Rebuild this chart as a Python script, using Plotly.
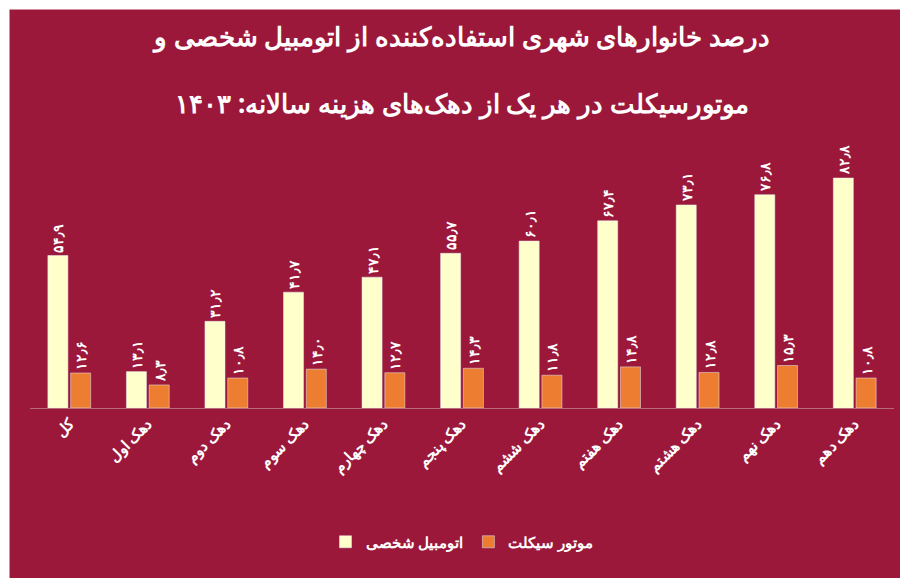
import plotly.graph_objects as go

categories = ["کل", "دهک اول", "دهک دوم", "دهک سوم", "دهک چهارم", "دهک پنجم",
              "دهک ششم", "دهک هفتم", "دهک هشتم", "دهک نهم", "دهک دهم"]
car = [54.9, 13.1, 31.2, 41.7, 47.1, 55.7, 60.1, 67.4, 73.1, 76.8, 82.8]
moto = [12.6, 8.3, 10.8, 14.0, 12.7, 14.3, 11.8, 14.8, 12.8, 15.3, 10.8]

fa_digits = str.maketrans("0123456789.", "۰۱۲۳۴۵۶۷۸۹٫")


def fa(v):
    return "<b>" + f"{v:.1f}".translate(fa_digits) + "</b>"


bg = "#9C183B"
font = "Noto Sans"
L, R, T, B = 22, 22, 150, 170

fig = go.Figure()
fig.add_bar(x=categories, y=car, name="<b>اتومبیل شخصی</b>", marker_color="#FFFFCC",
            text=[fa(v) for v in car], textposition="outside", textangle=-90,
            constraintext="none",
            textfont=dict(color="white", size=14, family=font), cliponaxis=False)
fig.add_bar(x=categories, y=moto, name="<b>موتور سیکلت</b>", marker_color="#ED7D31",
            text=[fa(v) for v in moto], textposition="outside", textangle=-90,
            constraintext="none",
            textfont=dict(color="white", size=14, family=font), cliponaxis=False)

fig.update_layout(
    width=908, height=578,
    paper_bgcolor=bg, plot_bgcolor=bg,
    font=dict(family=font, color="white"),
    title=dict(text="<b>درصد خانوارهای شهری استفاده‌کننده از اتومبیل شخصی و<br><br>موتورسیکلت در هر یک از دهک‌های هزینه سالانه: ۱۴۰۳</b>",
               x=0.5, xanchor="center", y=0.935, yanchor="top",
               font=dict(size=26, color="white", family=font)),
    barmode="group", bargap=0.42, bargroupgap=0.12,
    margin=dict(l=L, r=R, t=T, b=B),
    showlegend=True,
    legend=dict(orientation="h", x=0.5, xanchor="center", y=-0.47, yanchor="top",
                font=dict(size=15, color="white"), traceorder="normal"),
    xaxis=dict(tickangle=-45, tickfont=dict(size=15, color="white"),
               tickvals=categories, ticktext=["<b>" + c + "</b>" for c in categories],
               showline=True, linecolor="#b86a7d", ticks=""),
    yaxis=dict(range=[0, 90], visible=False, showgrid=False),
)
pw, ph = 908 - L - R, 578 - T - B
fig.update_layout(
    margin=dict(b=B + 8),
    shapes=[dict(type="rect", xref="paper", yref="paper",
                 x0=-L / pw, x1=1 + R / pw, y0=-(B + 8) / (ph - 8), y1=1 + T / (ph - 8),
                 line=dict(color="white", width=3))])

fig.write_html("out.html")
